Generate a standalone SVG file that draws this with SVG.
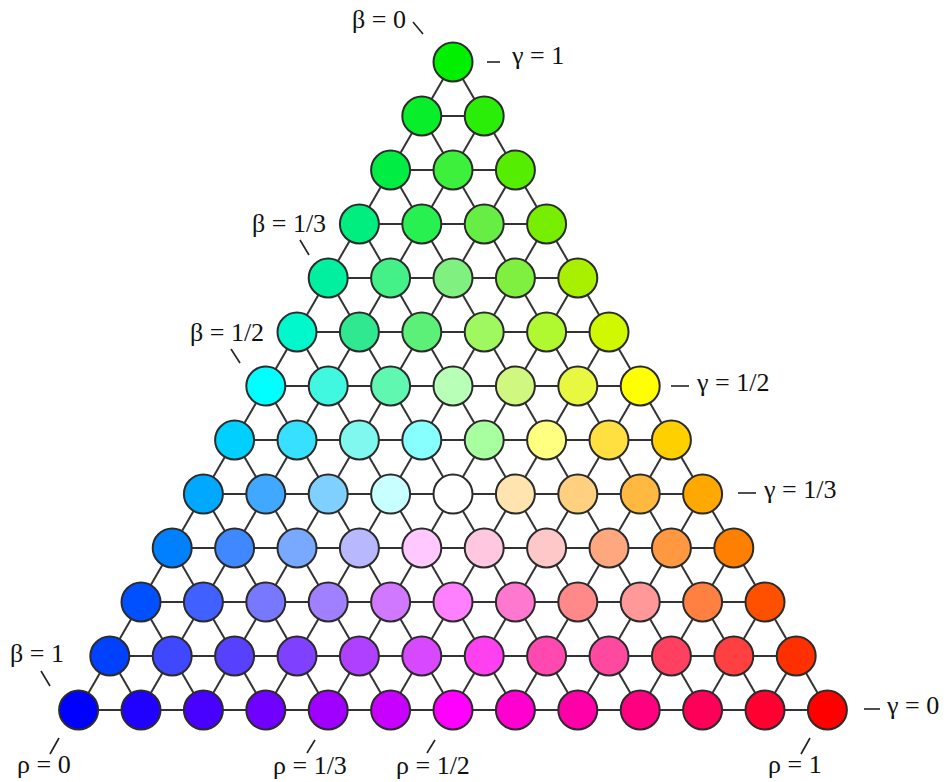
<svg xmlns="http://www.w3.org/2000/svg" width="947" height="782" viewBox="0 0 947 782">
<style>
.n circle{stroke:#2b2b2b;stroke-width:2}
.c line{stroke:#333;stroke-width:2}
.t line{stroke:#222;stroke-width:1.6}
.t text{font-family:"Liberation Serif","DejaVu Serif",serif;font-size:26px;fill:#111}
</style>
<rect width="947" height="782" fill="#fff"/>
<g id="connectors" class="c">
<line x1="421.8" y1="116" x2="484.2" y2="116"/>
<line x1="390.6" y1="170" x2="515.4" y2="170"/>
<line x1="359.4" y1="224" x2="546.6" y2="224"/>
<line x1="328.2" y1="278" x2="577.8" y2="278"/>
<line x1="297" y1="332" x2="609" y2="332"/>
<line x1="265.8" y1="386" x2="640.2" y2="386"/>
<line x1="234.6" y1="440" x2="671.4" y2="440"/>
<line x1="203.4" y1="494" x2="702.6" y2="494"/>
<line x1="172.2" y1="548" x2="733.8" y2="548"/>
<line x1="141" y1="602" x2="765" y2="602"/>
<line x1="109.8" y1="656" x2="796.2" y2="656"/>
<line x1="78.6" y1="710" x2="827.4" y2="710"/>
<line x1="453" y1="62" x2="78.6" y2="710"/>
<line x1="484.2" y1="116" x2="141" y2="710"/>
<line x1="515.4" y1="170" x2="203.4" y2="710"/>
<line x1="546.6" y1="224" x2="265.8" y2="710"/>
<line x1="577.8" y1="278" x2="328.2" y2="710"/>
<line x1="609" y1="332" x2="390.6" y2="710"/>
<line x1="640.2" y1="386" x2="453" y2="710"/>
<line x1="671.4" y1="440" x2="515.4" y2="710"/>
<line x1="702.6" y1="494" x2="577.8" y2="710"/>
<line x1="733.8" y1="548" x2="640.2" y2="710"/>
<line x1="765" y1="602" x2="702.6" y2="710"/>
<line x1="796.2" y1="656" x2="765" y2="710"/>
<line x1="453" y1="62" x2="827.4" y2="710"/>
<line x1="421.8" y1="116" x2="765" y2="710"/>
<line x1="390.6" y1="170" x2="702.6" y2="710"/>
<line x1="359.4" y1="224" x2="640.2" y2="710"/>
<line x1="328.2" y1="278" x2="577.8" y2="710"/>
<line x1="297" y1="332" x2="515.4" y2="710"/>
<line x1="265.8" y1="386" x2="453" y2="710"/>
<line x1="234.6" y1="440" x2="390.6" y2="710"/>
<line x1="203.4" y1="494" x2="328.2" y2="710"/>
<line x1="172.2" y1="548" x2="265.8" y2="710"/>
<line x1="141" y1="602" x2="203.4" y2="710"/>
<line x1="109.8" y1="656" x2="141" y2="710"/>
</g>
<g class="n">
<g id="n0_0"><circle cx="453" cy="62" r="19.5" fill="#00f000"/></g>
<g id="n1_0"><circle cx="421.8" cy="116" r="19.5" fill="#08ee2a"/></g>
<g id="n1_1"><circle cx="484.2" cy="116" r="19.5" fill="#2aee08"/></g>
<g id="n2_0"><circle cx="390.6" cy="170" r="19.5" fill="#00ee44"/></g>
<g id="n2_1"><circle cx="453" cy="170" r="19.5" fill="#3cf03c"/></g>
<g id="n2_2"><circle cx="515.4" cy="170" r="19.5" fill="#55ee00"/></g>
<g id="n3_0"><circle cx="359.4" cy="224" r="19.5" fill="#00ee80"/></g>
<g id="n3_1"><circle cx="421.8" cy="224" r="19.5" fill="#28f050"/></g>
<g id="n3_2"><circle cx="484.2" cy="224" r="19.5" fill="#66ee44"/></g>
<g id="n3_3"><circle cx="546.6" cy="224" r="19.5" fill="#77ee00"/></g>
<g id="n4_0"><circle cx="328.2" cy="278" r="19.5" fill="#00f0a0"/></g>
<g id="n4_1"><circle cx="390.6" cy="278" r="19.5" fill="#44f088"/></g>
<g id="n4_2"><circle cx="453" cy="278" r="19.5" fill="#80f080"/></g>
<g id="n4_3"><circle cx="515.4" cy="278" r="19.5" fill="#80f040"/></g>
<g id="n4_4"><circle cx="577.8" cy="278" r="19.5" fill="#a8f000"/></g>
<g id="n5_0"><circle cx="297" cy="332" r="19.5" fill="#00f8cc"/></g>
<g id="n5_1"><circle cx="359.4" cy="332" r="19.5" fill="#30e890"/></g>
<g id="n5_2"><circle cx="421.8" cy="332" r="19.5" fill="#5cf078"/></g>
<g id="n5_3"><circle cx="484.2" cy="332" r="19.5" fill="#a0f860"/></g>
<g id="n5_4"><circle cx="546.6" cy="332" r="19.5" fill="#b0f830"/></g>
<g id="n5_5"><circle cx="609" cy="332" r="19.5" fill="#d0f800"/></g>
<g id="n6_0"><circle cx="265.8" cy="386" r="19.5" fill="#00ffff"/></g>
<g id="n6_1"><circle cx="328.2" cy="386" r="19.5" fill="#40f8e0"/></g>
<g id="n6_2"><circle cx="390.6" cy="386" r="19.5" fill="#60f8b0"/></g>
<g id="n6_3"><circle cx="453" cy="386" r="19.5" fill="#b8ffb8"/></g>
<g id="n6_4"><circle cx="515.4" cy="386" r="19.5" fill="#d0f880"/></g>
<g id="n6_5"><circle cx="577.8" cy="386" r="19.5" fill="#e8f840"/></g>
<g id="n6_6"><circle cx="640.2" cy="386" r="19.5" fill="#ffff00"/></g>
<g id="n7_0"><circle cx="234.6" cy="440" r="19.5" fill="#00d0ff"/></g>
<g id="n7_1"><circle cx="297" cy="440" r="19.5" fill="#38e0ff"/></g>
<g id="n7_2"><circle cx="359.4" cy="440" r="19.5" fill="#80f8f0"/></g>
<g id="n7_3"><circle cx="421.8" cy="440" r="19.5" fill="#88ffff"/></g>
<g id="n7_4"><circle cx="484.2" cy="440" r="19.5" fill="#a8ffa0"/></g>
<g id="n7_5"><circle cx="546.6" cy="440" r="19.5" fill="#ffff80"/></g>
<g id="n7_6"><circle cx="609" cy="440" r="19.5" fill="#ffe040"/></g>
<g id="n7_7"><circle cx="671.4" cy="440" r="19.5" fill="#ffd000"/></g>
<g id="n8_0"><circle cx="203.4" cy="494" r="19.5" fill="#00a8ff"/></g>
<g id="n8_1"><circle cx="265.8" cy="494" r="19.5" fill="#40a8ff"/></g>
<g id="n8_2"><circle cx="328.2" cy="494" r="19.5" fill="#80d0ff"/></g>
<g id="n8_3"><circle cx="390.6" cy="494" r="19.5" fill="#c8ffff"/></g>
<g id="n8_4"><circle cx="453" cy="494" r="19.5" fill="#ffffff"/></g>
<g id="n8_5"><circle cx="515.4" cy="494" r="19.5" fill="#ffe4b0"/></g>
<g id="n8_6"><circle cx="577.8" cy="494" r="19.5" fill="#ffd080"/></g>
<g id="n8_7"><circle cx="640.2" cy="494" r="19.5" fill="#ffb840"/></g>
<g id="n8_8"><circle cx="702.6" cy="494" r="19.5" fill="#ffa800"/></g>
<g id="n9_0"><circle cx="172.2" cy="548" r="19.5" fill="#0080ff"/></g>
<g id="n9_1"><circle cx="234.6" cy="548" r="19.5" fill="#4088ff"/></g>
<g id="n9_2"><circle cx="297" cy="548" r="19.5" fill="#78a8ff"/></g>
<g id="n9_3"><circle cx="359.4" cy="548" r="19.5" fill="#b8b8ff"/></g>
<g id="n9_4"><circle cx="421.8" cy="548" r="19.5" fill="#ffc8ff"/></g>
<g id="n9_5"><circle cx="484.2" cy="548" r="19.5" fill="#ffc8e0"/></g>
<g id="n9_6"><circle cx="546.6" cy="548" r="19.5" fill="#ffc8c8"/></g>
<g id="n9_7"><circle cx="609" cy="548" r="19.5" fill="#ffa880"/></g>
<g id="n9_8"><circle cx="671.4" cy="548" r="19.5" fill="#ff9840"/></g>
<g id="n9_9"><circle cx="733.8" cy="548" r="19.5" fill="#ff8000"/></g>
<g id="n10_0"><circle cx="141" cy="602" r="19.5" fill="#0050ff"/></g>
<g id="n10_1"><circle cx="203.4" cy="602" r="19.5" fill="#4060ff"/></g>
<g id="n10_2"><circle cx="265.8" cy="602" r="19.5" fill="#7878ff"/></g>
<g id="n10_3"><circle cx="328.2" cy="602" r="19.5" fill="#a080ff"/></g>
<g id="n10_4"><circle cx="390.6" cy="602" r="19.5" fill="#d078ff"/></g>
<g id="n10_5"><circle cx="453" cy="602" r="19.5" fill="#ff80ff"/></g>
<g id="n10_6"><circle cx="515.4" cy="602" r="19.5" fill="#ff78d0"/></g>
<g id="n10_7"><circle cx="577.8" cy="602" r="19.5" fill="#ff8888"/></g>
<g id="n10_8"><circle cx="640.2" cy="602" r="19.5" fill="#ff9898"/></g>
<g id="n10_9"><circle cx="702.6" cy="602" r="19.5" fill="#ff8040"/></g>
<g id="n10_10"><circle cx="765" cy="602" r="19.5" fill="#ff5000"/></g>
<g id="n11_0"><circle cx="109.8" cy="656" r="19.5" fill="#0040ff"/></g>
<g id="n11_1"><circle cx="172.2" cy="656" r="19.5" fill="#4048ff"/></g>
<g id="n11_2"><circle cx="234.6" cy="656" r="19.5" fill="#5840ff"/></g>
<g id="n11_3"><circle cx="297" cy="656" r="19.5" fill="#8040ff"/></g>
<g id="n11_4"><circle cx="359.4" cy="656" r="19.5" fill="#b040ff"/></g>
<g id="n11_5"><circle cx="421.8" cy="656" r="19.5" fill="#d848ff"/></g>
<g id="n11_6"><circle cx="484.2" cy="656" r="19.5" fill="#ff40f0"/></g>
<g id="n11_7"><circle cx="546.6" cy="656" r="19.5" fill="#ff48b0"/></g>
<g id="n11_8"><circle cx="609" cy="656" r="19.5" fill="#ff48a0"/></g>
<g id="n11_9"><circle cx="671.4" cy="656" r="19.5" fill="#ff4060"/></g>
<g id="n11_10"><circle cx="733.8" cy="656" r="19.5" fill="#ff4040"/></g>
<g id="n11_11"><circle cx="796.2" cy="656" r="19.5" fill="#ff3000"/></g>
<g id="n12_0"><circle cx="78.6" cy="710" r="19.5" fill="#0000ff"/></g>
<g id="n12_1"><circle cx="141" cy="710" r="19.5" fill="#2000ff"/></g>
<g id="n12_2"><circle cx="203.4" cy="710" r="19.5" fill="#4800ff"/></g>
<g id="n12_3"><circle cx="265.8" cy="710" r="19.5" fill="#7000ff"/></g>
<g id="n12_4"><circle cx="328.2" cy="710" r="19.5" fill="#a000ff"/></g>
<g id="n12_5"><circle cx="390.6" cy="710" r="19.5" fill="#c800ff"/></g>
<g id="n12_6"><circle cx="453" cy="710" r="19.5" fill="#ff00ff"/></g>
<g id="n12_7"><circle cx="515.4" cy="710" r="19.5" fill="#ff00d0"/></g>
<g id="n12_8"><circle cx="577.8" cy="710" r="19.5" fill="#ff00a8"/></g>
<g id="n12_9"><circle cx="640.2" cy="710" r="19.5" fill="#ff0080"/></g>
<g id="n12_10"><circle cx="702.6" cy="710" r="19.5" fill="#ff0058"/></g>
<g id="n12_11"><circle cx="765" cy="710" r="19.5" fill="#ff0030"/></g>
<g id="n12_12"><circle cx="827.4" cy="710" r="19.5" fill="#ff0000"/></g>
</g>
<g id="labels" class="t">
<text x="352" y="28">β = 0</text>
<line x1="413" y1="22" x2="423" y2="34"/>
<line x1="487" y1="62" x2="500" y2="62"/>
<text x="512" y="64">γ = 1</text>
<text x="252" y="232">β = 1/3</text>
<line x1="300" y1="240" x2="309" y2="255"/>
<text x="190" y="341">β = 1/2</text>
<line x1="231" y1="349" x2="240" y2="363"/>
<text x="10" y="662">β = 1</text>
<line x1="41" y1="671" x2="50" y2="686"/>
<line x1="59" y1="738" x2="50" y2="754"/>
<text x="17" y="773">ρ = 0</text>
<line x1="315" y1="740" x2="307" y2="753"/>
<text x="273" y="774">ρ = 1/3</text>
<line x1="435" y1="740" x2="427" y2="753"/>
<text x="396" y="774">ρ = 1/2</text>
<line x1="810" y1="738" x2="801" y2="754"/>
<text x="768" y="773">ρ = 1</text>
<line x1="864" y1="709" x2="880" y2="709"/>
<text x="887" y="714">γ = 0</text>
<line x1="671" y1="386" x2="689" y2="386"/>
<text x="697" y="391">γ = 1/2</text>
<line x1="738" y1="493" x2="756" y2="493"/>
<text x="764" y="498">γ = 1/3</text>
</g>
</svg>
